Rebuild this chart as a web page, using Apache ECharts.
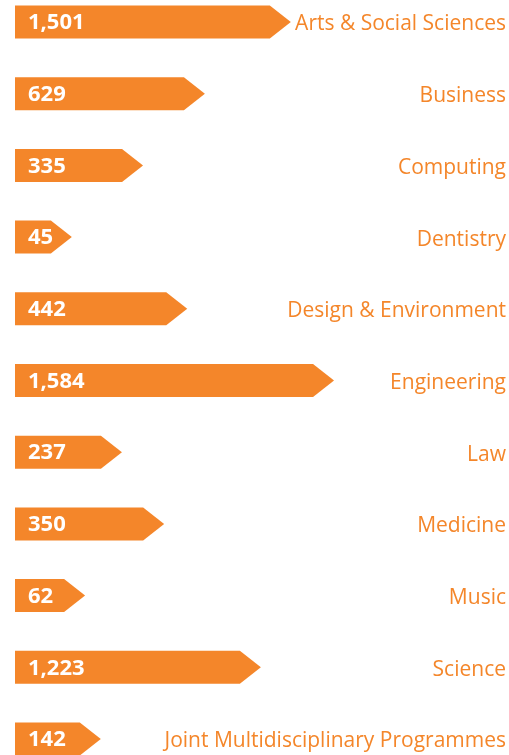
<!DOCTYPE html>
<html>
<head>
<meta charset="utf-8">
<script src="https://cdn.jsdelivr.net/npm/echarts@6/dist/echarts.min.js"></script>
<style>
  html, body { margin: 0; padding: 0; background: #fff; }
  #chart { width: 509px; height: 755px; }
</style>
</head>
<body>
<div id="chart"></div>
<script>
const categories = ['Arts & Social Sciences', 'Business', 'Computing', 'Dentistry', 'Design & Environment',
  'Engineering', 'Law', 'Medicine', 'Music', 'Science', 'Joint Multidisciplinary Programmes']
const values = [1501, 629, 335, 45, 442, 1584, 237, 350, 62, 1223, 142]
// drawn bar lengths as shown in the graphic (not proportional to the values), % of plot width
const barLength = [51.9, 34.4, 21.8, 7.3, 30.8, 60.7, 17.5, 26.1, 10.0, 45.8, 13.2]

const orange = '#F4862A'
const chart = echarts.init(document.getElementById('chart'))

chart.setOption({
  animation: false,
  grid: { left: 15, right: 3, top: 22, bottom: 16 },
  xAxis: { type: 'value', min: 0, max: 100, show: false },
  yAxis: {
    type: 'category',
    data: categories,
    inverse: true,
    boundaryGap: false,
    position: 'right',
    axisLine: { show: false },
    axisTick: { show: false },
    splitLine: { show: false },
    axisLabel: {
      inside: true,
      margin: 0,
      formatter: '{a|{value}}',
      rich: {
        a: {
          color: orange,
          fontFamily: 'Open Sans',
          fontSize: 21,
          padding: [5, 0, 0, 0]
        }
      }
    }
  },
  series: [{
    type: 'custom',
    data: barLength.map((v, i) => [v, i, values[i]]),
    encode: { x: 0, y: 1 },
    renderItem: (params, api) => {
      const end = api.coord([api.value(0), api.value(1)])
      const start = api.coord([0, api.value(1)])
      const h = api.size([0, 1])[1] * 0.46
      const tip = 21
      const y = end[1]
      return {
        type: 'group',
        children: [{
          type: 'polygon',
          shape: {
            points: [
              [start[0], y - h / 2], [end[0], y - h / 2], [end[0] + tip, y],
              [end[0], y + h / 2], [start[0], y + h / 2]
            ]
          },
          style: { fill: orange }
        }, {
          type: 'text',
          x: start[0] + 13,
          y: y + 1,
          style: {
            text: api.value(2).toLocaleString('en-US'),
            fill: '#fff',
            font: 'bold 22px "Open Sans"',
            verticalAlign: 'middle',
            align: 'left'
          }
        }]
      }
    }
  }]
})
</script>
</body>
</html>
